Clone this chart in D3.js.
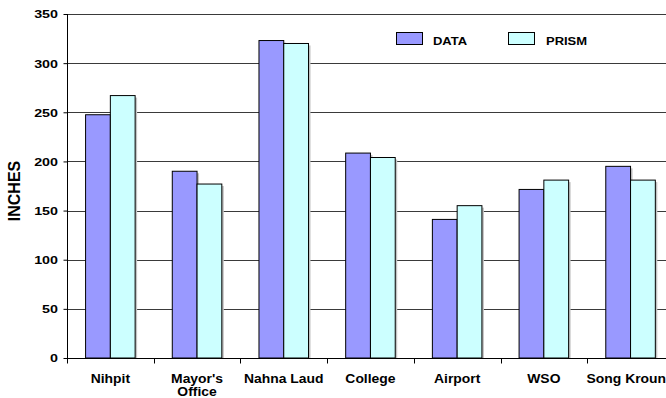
<!DOCTYPE html>
<html>
<head>
<meta charset="utf-8">
<script src="https://cdn.jsdelivr.net/npm/d3@7"></script>
<style>
  html, body { margin: 0; padding: 0; background: #fff; overflow: hidden; }
  svg { display: block; font-family: Arial, "Liberation Sans", sans-serif; }
</style>
</head>
<body>
<svg id="chart" width="666" height="398"></svg>
<script>
// Annual precipitation by station: observed vs. PRISM estimate
const stations = ["Nihpit", "Mayor's\nOffice", "Nahna Laud", "College", "Airport", "WSO", "Song Kroung"];
const seriesNames = ["DATA", "PRISM"];
const dataValues = [247.5, 190, 323, 208.5, 141, 171.5, 195];
const prismValues = [267, 177, 320, 204, 155, 181, 181];
const yTicks = [0, 50, 100, 150, 200, 250, 300, 350];
const colors = ["#9999FF", "#CCFFFF"];

const svg = d3.select("#chart");
const plotLeft = 67, plotTop = 14, plotBottom = 358;
const step = 86.7;
const plotRight = plotLeft + step * stations.length;

const x = d3.scaleBand().domain(stations).range([plotLeft, plotRight]).paddingInner(0).paddingOuter(0);
const xs = d3.scaleBand().domain(seriesNames).range([0, x.bandwidth()]).paddingInner(0).paddingOuter(0.75);
const y = d3.scaleLinear().domain([0, 350]).range([plotBottom, plotTop]);

// horizontal gridlines
svg.append("g").selectAll("line").data(yTicks.filter(d => d > 0)).join("line")
  .attr("x1", plotLeft).attr("x2", plotRight)
  .attr("y1", d => Math.round(y(d)) + 0.5).attr("y2", d => Math.round(y(d)) + 0.5)
  .attr("stroke", "#3a3a3a").attr("stroke-width", 1);

// y axis (tick labels are drawn slightly widened)
const yAxis = svg.append("g").attr("transform", `translate(${plotLeft + 0.5},0)`)
  .call(d3.axisLeft(y).tickValues(yTicks).tickSize(4).tickPadding(9).tickFormat(d3.format("d")));
yAxis.select(".domain").attr("stroke", "#000").attr("d", `M0,${plotTop}V${plotBottom}`);
yAxis.selectAll(".tick line").attr("stroke", "#000");
yAxis.selectAll(".tick text")
  .attr("fill", "#000").attr("font-size", 11).attr("font-weight", "bold")
  .attr("font-family", "Arial, 'Liberation Sans', sans-serif")
  .attr("x", null).attr("dy", "0.36em")
  .attr("transform", "translate(-9.5,0) scale(1.3,1)");

// bars
const rows = stations.map((s, i) => ({ s, vals: [dataValues[i], prismValues[i]] }));
const groups = svg.append("g").selectAll("g").data(rows).join("g")
  .attr("transform", d => `translate(${x(d.s)},0)`);

// soft shadow behind each bar
groups.selectAll("rect.shadow").data(d => d.vals.map((v, j) => ({ v, k: seriesNames[j], j }))).join("rect")
  .attr("class", "shadow")
  .attr("x", d => xs(d.k) + 2).attr("y", d => y(d.v) + 2)
  .attr("width", xs.bandwidth()).attr("height", d => plotBottom - y(d.v) - 2)
  .attr("fill", "#c4c4c4");

groups.selectAll("rect.bar").data(d => d.vals.map((v, j) => ({ v, k: seriesNames[j], j }))).join("rect")
  .attr("class", "bar")
  .attr("x", d => xs(d.k)).attr("y", d => y(d.v))
  .attr("width", xs.bandwidth()).attr("height", d => plotBottom - y(d.v))
  .attr("fill", d => colors[d.j]).attr("stroke", "#000").attr("stroke-width", 1);

// x axis
const xAxis = svg.append("g").attr("transform", `translate(0,${plotBottom + 0.5})`);
xAxis.append("line").attr("x1", plotLeft).attr("x2", plotRight).attr("stroke", "#000");
xAxis.selectAll("line.tick").data(d3.range(stations.length + 1)).join("line")
  .attr("class", "tick")
  .attr("x1", i => Math.round(plotLeft + i * step) + 0.5).attr("x2", i => Math.round(plotLeft + i * step) + 0.5)
  .attr("y1", 0).attr("y2", 5).attr("stroke", "#000");
xAxis.selectAll("text").data(stations).join("text")
  .attr("transform", d => `translate(${x(d) + x.bandwidth() / 2},24) scale(1.07,1)`)
  .attr("text-anchor", "middle").attr("font-size", 13).attr("font-weight", "bold").attr("fill", "#000")
  .each(function (d) {
    d.split("\n").forEach((line, i) => {
      d3.select(this).append("tspan").attr("x", 0).attr("dy", i ? 14 : 0).text(line);
    });
  });

// y axis title
svg.append("text").attr("transform", "translate(20,191) rotate(-90)")
  .attr("text-anchor", "middle").attr("font-size", 16).attr("font-weight", "bold").attr("fill", "#000")
  .text("INCHES");

// legend
const legendX = [396, 508];
const legend = svg.append("g").selectAll("g").data(seriesNames).join("g")
  .attr("transform", (d, i) => `translate(${legendX[i]},32)`);
legend.append("rect").attr("x", 0.5).attr("y", 0.5).attr("width", 26).attr("height", 12)
  .attr("fill", (d, i) => colors[i]).attr("stroke", "#000");
legend.append("text")
  .attr("transform", (d, i) => `translate(${i ? 38 : 37},13) scale(1.12,1)`)
  .attr("font-size", 11.6).attr("font-weight", "bold").attr("fill", "#000").text(d => d);
</script>
</body>
</html>
